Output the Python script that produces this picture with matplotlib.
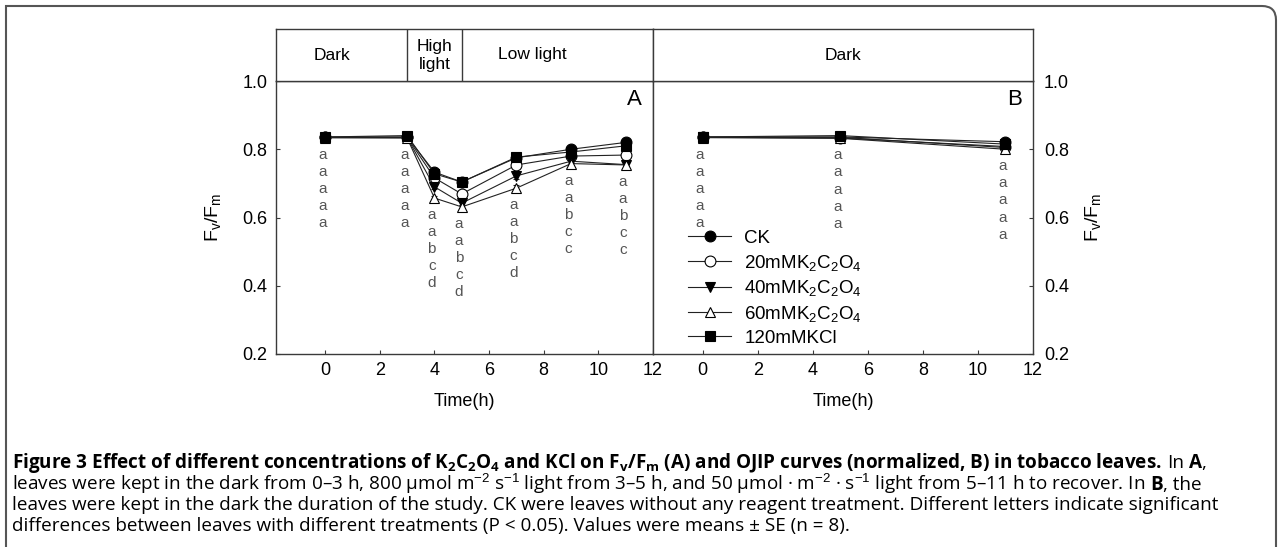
import matplotlib
matplotlib.use('Agg')
import matplotlib.pyplot as plt
from matplotlib.path import Path
import matplotlib.patches as mpatches
from matplotlib.lines import Line2D

W, H = 1282, 547

CAP_FONT = 'Open Sans'

plt.rcParams['font.family'] = ['Liberation Sans', 'DejaVu Sans']
plt.rcParams['mathtext.fontset'] = 'custom'
plt.rcParams['mathtext.rm'] = 'Liberation Sans'
plt.rcParams['mathtext.it'] = 'Liberation Sans:italic'
plt.rcParams['mathtext.bf'] = CAP_FONT + ':bold'

# ---------------- data ----------------
series_labels = ['CK', '20mMK$_2$C$_2$O$_4$', '40mMK$_2$C$_2$O$_4$',
                 '60mMK$_2$C$_2$O$_4$', '120mMKCl']

time_a = [0, 3, 4, 5, 7, 9, 11]
ck_a = [0.836, 0.836, 0.733, 0.704, 0.775, 0.800, 0.820]
k20_a = [0.835, 0.835, 0.716, 0.669, 0.754, 0.780, 0.783]
k40_a = [0.834, 0.834, 0.690, 0.642, 0.722, 0.765, 0.755]
k60_a = [0.834, 0.833, 0.657, 0.631, 0.686, 0.758, 0.754]
kcl_a = [0.836, 0.840, 0.728, 0.704, 0.777, 0.792, 0.810]
se_a = [0.004, 0.004, 0.006, 0.006, 0.010, 0.006, 0.006]
letters_a = ['aaaaa', 'aaaaa', 'aabcd', 'aabcd', 'aabcd', 'aabcc', 'aabcc']

time_b = [0, 5, 11]
ck_b = [0.836, 0.836, 0.822]
k20_b = [0.835, 0.833, 0.808]
k40_b = [0.835, 0.835, 0.805]
k60_b = [0.834, 0.832, 0.800]
kcl_b = [0.836, 0.840, 0.815]
se_b = [0.004, 0.004, 0.005]
letters_b = ['aaaaa', 'aaaaa', 'aaaaa']

yticks = [0.2, 0.4, 0.6, 0.8, 1.0]
xticks = [0, 2, 4, 6, 8, 10, 12]
phase_bounds_a = [3, 5]
phase_labels_a = ['Dark', 'High\nlight', 'Low light']
phase_label_x_a = [0.25, 4.0, 7.6]
phase_labels_b = ['Dark']
phase_label_x_b = [5.1]

styles = [dict(marker='o', mfc='black'), dict(marker='o', mfc='white'),
          dict(marker='v', mfc='black'), dict(marker='^', mfc='white'),
          dict(marker='s', mfc='black')]

# ---------------- figure ----------------
fig = plt.figure(figsize=(W / 100, H / 100), dpi=100)

def fx(px):
    return px / W

def fy(py):
    return 1 - py / H

L_A, R_A, R_B = 276, 653, 1033
T_AX, B_AX, T_HD = 81, 354, 29
ax_a = fig.add_axes([fx(L_A), fy(B_AX), fx(R_A - L_A), (B_AX - T_AX) / H])
ax_b = fig.add_axes([fx(R_A), fy(B_AX), fx(R_B - R_A), (B_AX - T_AX) / H])
hd_a = fig.add_axes([fx(L_A), fy(T_AX), fx(R_A - L_A), (T_AX - T_HD) / H])
hd_b = fig.add_axes([fx(R_A), fy(T_AX), fx(R_B - R_A), (T_AX - T_HD) / H])

spine_c = '#3a3a3a'
for ax in (ax_a, ax_b, hd_a, hd_b):
    ax.set_xlim(-1.8, 12)
    for s in ax.spines.values():
        s.set_color(spine_c)
        s.set_linewidth(1.0)

for hd, bounds, labs, labx in ((hd_a, phase_bounds_a, phase_labels_a, phase_label_x_a),
                               (hd_b, [], phase_labels_b, phase_label_x_b)):
    hd.set_ylim(0, 1)
    hd.set_xticks([])
    hd.set_yticks([])
    for b in bounds:
        hd.axvline(b, color=spine_c, lw=1.0)
    for lab, x in zip(labs, labx):
        hd.text(x, 0.5, lab, ha='center', va='center', fontsize=12.5, linespacing=1.25)


def draw_panel(ax, t, ys, se, letters):
    for vals, st in zip(ys, styles):
        ax.errorbar(t, vals, yerr=se, color='#222222', lw=0.8, elinewidth=0.8,
                    capsize=2.5, capthick=0.8, marker=st['marker'],
                    mfc=st['mfc'], mec='black', mew=0.8, ms=7.8, zorder=3)
    for i, ti in enumerate(t):
        top = min(v[i] for v in ys) - 0.05
        for j, ch in enumerate(letters[i]):
            ax.text(ti - 0.1, top - j * 0.05, ch, ha='center', va='center',
                    fontsize=11, color='#555555')
    ax.set_ylim(0.2, 1.0)
    ax.set_xticks(xticks)
    ax.set_yticks(yticks)
    ax.tick_params(direction='in', length=3, width=0.8, colors=spine_c,
                   labelcolor='black', labelsize=13, pad=6)
    ax.set_xlabel('Time(h)', fontsize=13, labelpad=10)


draw_panel(ax_a, time_a, [ck_a, k20_a, k40_a, k60_a, kcl_a], se_a, letters_a)
draw_panel(ax_b, time_b, [ck_b, k20_b, k40_b, k60_b, kcl_b], se_b, letters_b)

ax_a.set_yticklabels(['%.1f' % v for v in yticks])
ax_a.set_ylabel('F$_\\mathrm{v}$/F$_\\mathrm{m}$', fontsize=14, labelpad=14)
ax_b.yaxis.tick_right()
ax_b.yaxis.set_label_position('right')
ax_b.set_yticklabels(['%.1f' % v for v in yticks])
ax_b.tick_params(axis='y', direction='in', pad=8)
ax_b.set_ylabel('F$_\\mathrm{v}$/F$_\\mathrm{m}$', fontsize=14, labelpad=10)

ax_a.text(0.97, 0.97, 'A', transform=ax_a.transAxes, ha='right', va='top', fontsize=16)
ax_b.text(0.97, 0.97, 'B', transform=ax_b.transAxes, ha='right', va='top', fontsize=16)

handles = [Line2D([], [], color='#222222', lw=0.8, marker=st['marker'], mfc=st['mfc'],
                  mec='black', mew=0.8, ms=7.8) for st in styles]
ax_b.legend(handles, series_labels, loc='upper left', bbox_to_anchor=(0.092, 0.455),
            frameon=False, fontsize=13.5, handlelength=2.3, handletextpad=0.7,
            borderpad=0, borderaxespad=0, labelspacing=0.3)

# ---------------- outer frame ----------------
r = 14
x0, x1, y0, y1 = 6, 1276, 6, 547
verts = [(x0, y1), (x0, y0), (x1 - r, y0), (x1, y0), (x1, y0 + r), (x1, y1)]
codes = [Path.MOVETO, Path.LINETO, Path.LINETO, Path.CURVE3, Path.CURVE3, Path.LINETO]
verts = [(fx(a), fy(b)) for a, b in verts]
fig.patches.append(mpatches.PathPatch(Path(verts, codes), transform=fig.transFigure,
                                      fill=False, lw=1.5, ec='#555555'))

# ---------------- caption ----------------
renderer = fig.canvas.get_renderer()


def width_of(txt, size, bold=False):
    t = fig.text(0, 0, txt, fontsize=size, family=CAP_FONT,
                 fontweight='bold' if bold else 'normal')
    w = t.get_window_extent(renderer=renderer).width
    t.remove()
    return w


fit_text = 'differences between leaves with different treatments (P < 0.05). Values w'
cap_size = 10.0 * (650 - 12) / width_of(fit_text, 10.0)


def draw_runs(y, runs):
    x = 12
    sp = width_of('a a', cap_size) - width_of('aa', cap_size)
    for txt, bold in runs:
        lead = len(txt) - len(txt.lstrip(' '))
        x += lead * sp
        core = txt.strip(' ')
        t = fig.text(fx(x), fy(y), core, fontsize=cap_size, family=CAP_FONT,
                     fontweight='bold' if bold else 'normal', va='baseline', ha='left')
        x = t.get_window_extent(renderer=renderer).x1
        trail = len(txt) - len(txt.rstrip(' '))
        x += trail * sp


draw_runs(468, [('Figure 3 Effect of different concentrations of K$_\\mathbf{2}$C$_\\mathbf{2}$O$_\\mathbf{4}$'
                 ' and KCl on F$_\\mathbf{v}$/F$_\\mathbf{m}$ (A) and OJIP curves (normalized, B) in tobacco leaves.', True),
                (' In ', False), ('A', True), (',', False)])
draw_runs(490, [('leaves were kept in the dark from 0\u20133 h, 800 \u00b5mol m$^{-2}$ s$^{-1}$ light from 3\u20135 h, '
                 'and 50 \u00b5mol \u00b7 m$^{-2}$ \u00b7 s$^{-1}$ light from 5\u201311 h to recover. In ', False),
                ('B', True), (', the', False)])
draw_runs(510, [('leaves were kept in the dark the duration of the study. CK were leaves '
                 'without any reagent treatment. Different letters indicate significant', False)])
draw_runs(531, [('differences between leaves with different treatments (P < 0.05). '
                 'Values were means \u00b1 SE (n = 8).', False)])

fig.savefig('out.png', dpi=100)
